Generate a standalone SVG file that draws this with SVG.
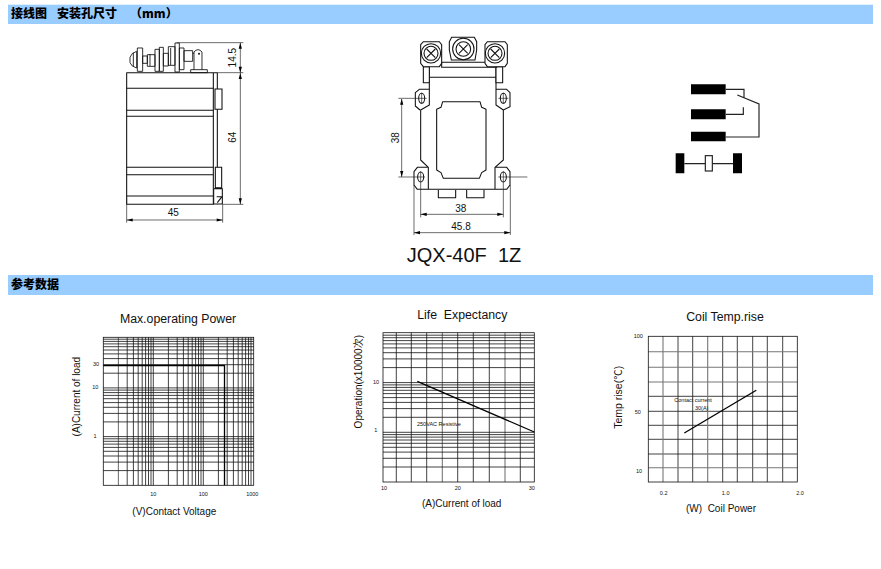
<svg xmlns="http://www.w3.org/2000/svg" width="881" height="569" viewBox="0 0 881 569">
<style>
text{font-family:"Liberation Sans",Arial,"Noto Sans CJK SC",sans-serif;fill:#111;white-space:pre}
.h{font-family:"Noto Sans CJK SC","Liberation Sans",sans-serif;font-size:12px;font-weight:900;fill:#000}
.t{font-size:12.300px;text-anchor:middle}
.a{font-size:10px;text-anchor:middle}
.d{font-size:10px;text-anchor:middle}
.s{font-size:5.500px;text-anchor:middle}
.g{fill:none;stroke:#111;stroke-width:.8}
.g2{fill:none;stroke:#777;stroke-width:1.100}
.b{fill:none;stroke:#000;stroke-width:1.300}
.z{fill:none;stroke:#111;stroke-width:3.200;stroke-linejoin:round}
.y{fill:none;stroke:#111;stroke-width:2.600;stroke-linejoin:round}
.zt{fill:none;stroke:#222;stroke-width:2}
.zf{fill:#fff;stroke:#111;stroke-width:3.200}
.k{fill:#000}
</style>
<rect width="881" height="569" fill="#fff"/>
<g id="header-1"><rect x="8" y="4.700" width="865" height="19.300" fill="#99ccff"/><text class="h" x="11" y="18">接线图</text><text class="h" x="57" y="18">安装孔尺寸</text><text class="h" x="130" y="18" xml:space="preserve">（mm）</text></g>
<g id="header-2"><rect x="8" y="275" width="865" height="20" fill="#99ccff"/><text class="h" x="11" y="289">参考数据</text></g>

<g id="side-view">
<g transform="translate(100 30) scale(.33333)">
<path class="z" d="M80,128H340V523H80ZM340,128H352V523"/>
<path class="z" d="M80,175H340M80,241H340M80,259H340M80,412H340M80,434H340M80,498H340"/>
<path class="zf" d="M345,177H366V238H345ZM346,412H365V473H346ZM341,476H367V522H341Z"/>
<path class="z" d="M350,500L366,500L352,518"/>
<path class="y" d="M110,64Q94,68 90,82V98Q94,110 110,114ZM100,68V110M112,54H128V124H112ZM128,78H142V100H128ZM142,74H165V109H142ZM150,72V108M165,58H178V124H165ZM178,52H190V124H178ZM190,70H205V108H190ZM205,50H225V106H205ZM212,54V105M225,39H238V126H225ZM238,54H252V119H238ZM252,62H278V94H252ZM278,70H282"/>
<path class="y" d="M282,66Q294,52 306,66V119M282,66V119M272,119H322V128H272Z"/>
<circle cx="297" cy="71" r="3" fill="#111"/>
<path class="zt" d="M230,38H430M352,128H430M368,523H430M421,38V523M80,503V578M368,523V578M80,570H368"/>
</g>
<path class="k" d="M240.300,42.700l-1.600,6h3.200zM240.300,72.700l-1.600,-6h3.200zM240.300,73l-1.600,6h3.200zM240.300,204.300l-1.600,-6h3.200zM126.700,220l6,-1.600v3.200zM222.700,220l-6,-1.600v3.200z"/>
<text class="d" transform="translate(235.500 57.700) rotate(-90)">14.5</text>
<text class="d" transform="translate(235.500 137.300) rotate(-90)">64</text>
<text class="d" x="173.300" y="216">45</text>
</g>

<g id="front-view">
<g transform="translate(380 30) scale(.33333)">
<path class="z" d="M148,112V225L122,240V390L145,412H112L102,425V465L112,478H380L390,465V425L380,412H345L370,390V240L348,225V112M148,178H118L106,188V228L120,240M348,178H380L390,188V230L370,240M145,412V478M345,412V478"/>
<path class="z" d="M148,142H348M188,215H300L305,232L318,238V420L305,428L298,445H190L183,428L170,420V238L183,232Z"/>
<path class="z" d="M175,480V503H227V480M260,480V503H312V480"/>
<path class="zf" d="M130,110H148V158H130ZM348,110H368V158H348ZM185,97H350V112H185Z"/>
<path class="zf" d="M122,44L130,35H178L185,44V100L178,110H130L122,100ZM315,44L322,35H375L382,44V100L375,110H322L315,100ZM208,35L215,22H283L290,35V60L285,90H214L208,60Z"/>
<g class="z"><circle cx="153" cy="70" r="29"/><circle cx="153" cy="70" r="21"/><circle cx="250" cy="57" r="32"/><circle cx="250" cy="57" r="22"/><circle cx="345" cy="70" r="29"/><circle cx="345" cy="70" r="21"/></g>
<path class="z" d="M140,57L166,83M166,57L140,83M237,44L263,70M263,44L237,70M332,57L358,83M358,57L332,83"/>
<g class="z"><ellipse cx="125" cy="205" rx="9" ry="15"/><ellipse cx="370" cy="205" rx="9" ry="15"/><ellipse cx="122" cy="441" rx="9" ry="15"/><ellipse cx="370" cy="441" rx="9" ry="15"/></g>
<path class="zt" d="M125,188V222M370,188V222M122,424V458M370,424V458M355,205H385M55,205H140M55,441H135M355,441H442M65,207V441M122,458V562M370,458V562M122,553H370M102,465V615M391,465V615M102,608H391"/>
</g>
<path class="k" d="M401.700,98.700l-1.600,6h3.200zM401.700,177l-1.600,-6h3.200zM420.700,214.300l6,-1.600v3.200zM503.300,214.300l-6,-1.600v3.200zM414,232.700l6,-1.600v3.200zM510.300,232.700l-6,-1.600v3.200z"/>
<text class="d" transform="translate(398.500 137.700) rotate(-90)">38</text>
<text class="d" x="460.700" y="212.300">38</text>
<text class="d" x="461" y="229.500">45.8</text>
<text x="464" y="261.700" text-anchor="middle" font-size="20">JQX-40F  1Z</text>
</g>

<g id="schematic">
<g transform="translate(660 70) scale(.33333)">
<path class="k" d="M93,43H197V73H93ZM93,118H197V148H93ZM93,185H197V214H93ZM47,250H73V310H47ZM219,250H246V310H219Z"/>
<path fill="none" stroke="#222" stroke-width="3.500" d="M197,58H252V85M232,75L297,102V201H197M197,133H250V112M73,281H219"/>
<rect x="136" y="257" width="21" height="46" fill="#fff" stroke="#222" stroke-width="3.500"/>
</g>
</g>

<g id="chart-power">
<text class="t" x="178" y="323">Max.operating Power</text>
<path class="g" d="M127.200,337.300V485.300M133.400,337.300V485.300M138.200,337.300V485.300M142.200,337.300V485.300M145.600,337.300V485.300M148.500,337.300V485.300M151,337.300V485.300M153.300,337.300V485.300M168.400,337.300V485.300M177.200,337.300V485.300M183.400,337.300V485.300M188.200,337.300V485.300M192.200,337.300V485.300M195.600,337.300V485.300M198.500,337.300V485.300M201,337.300V485.300M203.300,337.300V485.300M218.400,337.300V485.300M227.200,337.300V485.300M233.400,337.300V485.300M238.200,337.300V485.300M242.200,337.300V485.300M245.600,337.300V485.300M248.500,337.300V485.300M251,337.300V485.300"/>
<path class="g2" d="M118.400,337.300V485.300"/>
<path class="g" d="M103.300,470.600H253.700M103.300,462.100H253.700M103.300,456H253.700M103.300,451.300H253.700M103.300,447.400H253.700M103.300,444.100H253.700M103.300,441.300H253.700M103.300,438.800H253.700M103.300,436.600H253.700M103.300,421.900H253.700M103.300,413.400H253.700M103.300,407.300H253.700M103.300,402.600H253.700M103.300,398.700H253.700M103.300,395.400H253.700M103.300,392.600H253.700M103.300,390.100H253.700M103.300,387.900H253.700M103.300,373.200H253.700M103.300,364.700H253.700M103.300,358.600H253.700M103.300,353.900H253.700M103.300,350H253.700M103.300,346.700H253.700M103.300,343.900H253.700M103.300,341.400H253.700M103.300,339.200H253.700"/>
<rect class="g" x="103.300" y="337.300" width="150.400" height="148" stroke-width="1"/>
<path class="b" d="M103.300,365.500H224.500V485.300"/>
<text class="s" x="96" y="366">30</text><text class="s" x="95.300" y="389.300">10</text><text class="s" x="95" y="438">1</text>
<text class="s" x="153.300" y="495.700">10</text><text class="s" x="203.300" y="495.700">100</text><text class="s" x="252.300" y="496">1000</text>
<text class="a" x="174.300" y="515">(V)Contact Voltage</text>
<text class="a" transform="translate(80 396.700) rotate(-90)">(A)Current of load</text>
</g>

<g id="chart-life">
<text class="t" x="462.300" y="319">Life  Expectancy</text>
<path class="g" d="M396.300,332.700V482M411.300,332.700V482M426.700,332.700V482M457.700,332.700V482M473.300,332.700V482M489.300,332.700V482M520.300,332.700V482"/>
<path class="g2" d="M442.300,332.700V482M505,332.700V482"/>
<path class="g" d="M383,467H534.300M383,458.300H534.300M383,452.100H534.300M383,447.300H534.300M383,443.300H534.300M383,440H534.300M383,437.100H534.300M383,434.600H534.300M383,432.300H534.300M383,417.300H534.300M383,408.600H534.300M383,402.400H534.300M383,397.600H534.300M383,393.600H534.300M383,390.300H534.300M383,387.400H534.300M383,384.900H534.300M383,382.600H534.300M383,367.600H534.300M383,358.900H534.300M383,352.700H534.300M383,347.900H534.300M383,343.900H534.300M383,340.600H534.300M383,337.700H534.300M383,335.200H534.300"/>
<rect class="g" x="383" y="332.700" width="151.300" height="149.300" stroke-width="1"/>
<path class="b" d="M417.300,381.300L534.300,432"/>
<text font-size="5.500" x="417" y="425.500">250VAC Resistive</text>
<text class="s" x="376" y="384">10</text><text class="s" x="375.700" y="432">1</text>
<text class="s" x="384" y="489.700">10</text><text class="s" x="457.700" y="490">20</text><text class="s" x="531.700" y="489.500">30</text>
<text class="a" x="461.700" y="506.700">(A)Current of load</text>
<text class="a" transform="translate(362.300 381.700) rotate(-90)">Operation(x10000次)</text>
</g>

<g id="chart-temp">
<text class="t" x="725" y="321">Coil Temp.rise</text>
<path class="g" d="M678,336.300V482M692.700,336.300V482M722.700,336.300V482M737.300,336.300V482M752.700,336.300V482M767.300,336.300V482M782.700,336.300V482M648.300,396.300H797.300M648.300,411.300H797.300M648.300,425.300H797.300M648.300,439.300H797.300M648.300,454H797.300"/>
<path class="g2" d="M663,336.300V482M707.700,336.300V482M648.300,351.700H797.300M648.300,367.300H797.300M648.300,382H797.300M648.300,467.700H797.300"/>
<rect class="g" x="648.300" y="336.300" width="149" height="145.700" stroke-width="1"/>
<path class="b" d="M684.300,433L756.300,390.300"/>
<text font-size="5.500" x="674.300" y="402">Contact current</text>
<text font-size="5.500" x="695" y="409.500">30(A)</text>
<text class="s" x="638.300" y="338.300">100</text><text class="s" x="637.700" y="414.300">50</text><text class="s" x="639" y="473">10</text>
<text class="s" x="663.700" y="495">0.2</text><text class="s" x="725.700" y="495.300">1.0</text><text class="s" x="800" y="495">2.0</text>
<text class="a" x="721" y="512">(W)  Coil Power</text>
<text class="a" style="font-size:10.500px" transform="translate(622.300 397.300) rotate(-90)">Temp rise(℃)</text>
</g>
</svg>
